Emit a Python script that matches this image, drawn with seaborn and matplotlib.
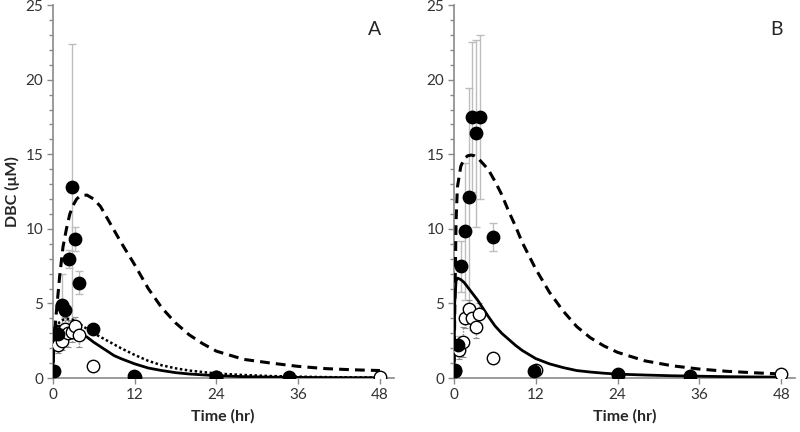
import numpy as np
import pandas as pd
import matplotlib
matplotlib.use("Agg")
import matplotlib.pyplot as plt
import seaborn as sns

# ---------------- data ----------------
A_filled_x = [0.2, 0.8, 1.3, 1.8, 2.4, 2.8, 3.3, 3.85, 5.9, 11.9, 24.0, 34.7]
A_filled_y = [0.45, 2.95, 4.9, 4.55, 8.0, 12.8, 9.3, 6.4, 3.26, 0.15, 0.05, 0.05]
A_filled_err = [0.1, 0.6, 2.1, 0.5, 0.6, 9.6, 0.8, 0.8, 0.2, 0.1, 0.05, 0.05]

A_open_x = [0.8, 1.3, 1.8, 2.3, 2.8, 3.3, 3.85, 5.9, 12.0, 24.0, 48.0]
A_open_y = [2.2, 2.5, 3.26, 3.0, 3.1, 3.5, 2.85, 0.8, 0.1, 0.05, 0.05]
A_open_err = [0.5, 0.6, 0.8, 0.9, 0.7, 0.6, 0.8, 0.3, 0.05, 0.02, 0.02]

B_filled_x = [0.15, 0.6, 1.1, 1.6, 2.2, 2.6, 3.2, 3.8, 5.7, 11.8, 24.0, 34.6]
B_filled_y = [0.55, 2.2, 7.5, 9.85, 12.15, 17.5, 16.4, 17.5, 9.45, 0.5, 0.2, 0.13]
B_filled_err = [0.1, 0.6, 1.7, 4.6, 7.3, 5.0, 6.25, 5.5, 0.95, 0.1, 0.05, 0.05]

B_open_x = [0.2, 0.8, 1.3, 1.6, 2.2, 2.7, 3.2, 3.7, 5.75, 12.0, 24.0, 48.0]
B_open_y = [0.5, 1.9, 2.4, 4.05, 4.6, 4.05, 3.4, 4.3, 1.35, 0.55, 0.25, 0.25]
B_open_err = [0.1, 0.6, 1.0, 0.7, 0.6, 0.8, 0.7, 0.7, 0.2, 0.1, 0.05, 0.05]

t_model = [0, 0.1, 0.3, 0.5, 1, 1.5, 2, 2.5, 3, 3.5, 4, 5, 6, 7, 8, 9, 10,
           12, 14, 16, 18, 20, 22, 24, 28, 32, 36, 40, 44, 48]
A_dashed = [0, 1.5, 3.2, 4.3, 6.8, 8.8, 10.0, 11.0, 11.6, 12.0, 12.2, 12.27, 12.0,
            11.5, 10.7, 9.9, 9.1, 7.6, 6.0, 4.7, 3.7, 2.9, 2.3, 1.8, 1.25, 1.0,
            0.78, 0.63, 0.55, 0.5]
A_dotted = [0, 1.5, 3.0, 3.4, 3.75, 3.9, 3.97, 3.95, 3.9, 3.75, 3.6, 3.3, 3.0,
            2.75, 2.5, 2.25, 2.0, 1.55, 1.15, 0.85, 0.65, 0.5, 0.4, 0.3, 0.2,
            0.13, 0.09, 0.06, 0.04, 0.03]
A_solid = [0, 2.5, 3.4, 3.5, 3.45, 3.4, 3.3, 3.2, 3.1, 3.0, 2.9, 2.75, 2.4,
           2.1, 1.8, 1.5, 1.3, 0.95, 0.67, 0.5, 0.36, 0.27, 0.21, 0.16, 0.09,
           0.06, 0.04, 0.03, 0.02, 0.02]
B_dashed = [0, 4.0, 10.5, 12.8, 14.2, 14.7, 14.9, 14.95, 14.9, 14.75, 14.5, 14.0,
            13.2, 12.3, 11.2, 10.2, 9.1, 7.3, 5.75, 4.5, 3.45, 2.7, 2.15, 1.72,
            1.15, 0.82, 0.6, 0.45, 0.35, 0.27]
B_solid = [0, 5.0, 6.5, 6.7, 6.6, 6.4, 6.1, 5.8, 5.5, 5.2, 4.85, 4.15, 3.5, 3.0,
           2.6, 2.2, 1.85, 1.3, 0.95, 0.7, 0.5, 0.4, 0.32, 0.26, 0.2, 0.15, 0.12,
           0.09, 0.07, 0.06]

x_ticks = [0, 12, 24, 36, 48]
y_ticks = [0, 5, 10, 15, 20, 25]
panel_labels = ["A", "B"]

# ---------------- style ----------------
sns.set_theme(style="white")
plt.rcParams["font.family"] = ["Lato", "DejaVu Sans"]

fig = plt.figure(figsize=(8.0, 4.32), dpi=100)
axA = fig.add_axes([0.066, 0.125, 0.426, 0.863])
axB = fig.add_axes([0.5675, 0.125, 0.426, 0.863])

spine_col = "#8a8a8a"
text_col = "#333333"

panels = [
    (axA, A_filled_x, A_filled_y, A_filled_err, A_open_x, A_open_y, A_open_err,
     [("dashed", A_dashed), ("dotted", A_dotted), ("solid", A_solid)]),
    (axB, B_filled_x, B_filled_y, B_filled_err, B_open_x, B_open_y, B_open_err,
     [("dashed", B_dashed), ("solid", B_solid)]),
]

styles = {
    "dashed": dict(linestyle=(0, (3.2, 2.0)), linewidth=2.2),
    "dotted": dict(linestyle=(0, (1.0, 1.0)), linewidth=1.8),
    "solid": dict(linestyle="-", linewidth=2.0),
}

for (ax, fx, fy, fe, ox, oy, oe, curves), lab in zip(panels, panel_labels):
    # error bars
    ax.errorbar(fx, fy, yerr=fe, fmt="none", ecolor="#bdbdbd", elinewidth=1.0,
                capsize=3, capthick=1.0, zorder=2)
    eb = ax.errorbar(ox, oy, yerr=oe, fmt="none", ecolor="#8c8c8c", elinewidth=1.0,
                     capsize=2.5, capthick=0.8, zorder=2)
    for lc in eb[2]:
        lc.set_linestyle((0, (1, 1)))

    # model curves
    for name, vals in curves:
        dfc = pd.DataFrame({"t": t_model, "c": vals})
        sns.lineplot(data=dfc, x="t", y="c", ax=ax, color="black", sort=False,
                     estimator=None, zorder=3, **styles[name])

    # observed points
    dff = pd.DataFrame({"t": fx, "c": fy})
    dfo = pd.DataFrame({"t": ox, "c": oy})
    sns.scatterplot(data=dfo, x="t", y="c", ax=ax, s=80, color="white",
                    edgecolor="black", linewidth=1.0, zorder=4)
    sns.scatterplot(data=dff, x="t", y="c", ax=ax, s=80, color="black",
                    edgecolor="black", linewidth=1.0, zorder=5)

    ax.set_xlim(0, 50)
    ax.set_ylim(0, 25)
    ax.set_xticks(x_ticks)
    ax.set_yticks(y_ticks)
    ax.set_yticks(np.arange(0, 26, 1), minor=True)
    ax.tick_params(axis="both", which="major", direction="out", length=4,
                   width=1, color=spine_col, labelsize=11, labelcolor=text_col,
                   left=True, bottom=True, pad=3)
    ax.tick_params(axis="y", which="minor", direction="out", length=3,
                   width=1, color=spine_col, left=True)
    for s in ["top", "right"]:
        ax.spines[s].set_visible(False)
    for s in ["left", "bottom"]:
        ax.spines[s].set_color(spine_col)
        ax.spines[s].set_linewidth(1.2)
    ax.set_xlabel("Time (hr)", fontsize=11.5, fontweight="bold", color="#262626",
                  labelpad=5)
    ax.set_ylabel("")
    ax.text(0.965, 0.935, lab, transform=ax.transAxes, fontsize=14, ha="right",
            va="center", color="#262626")
    ax.set_facecolor("white")

axA.set_ylabel("DBC (μM)", fontsize=11.5, fontweight="bold", color="#262626")
axA.yaxis.set_label_coords(-0.095, 0.5)

fig.savefig("out.png", dpi=100, facecolor="white")
